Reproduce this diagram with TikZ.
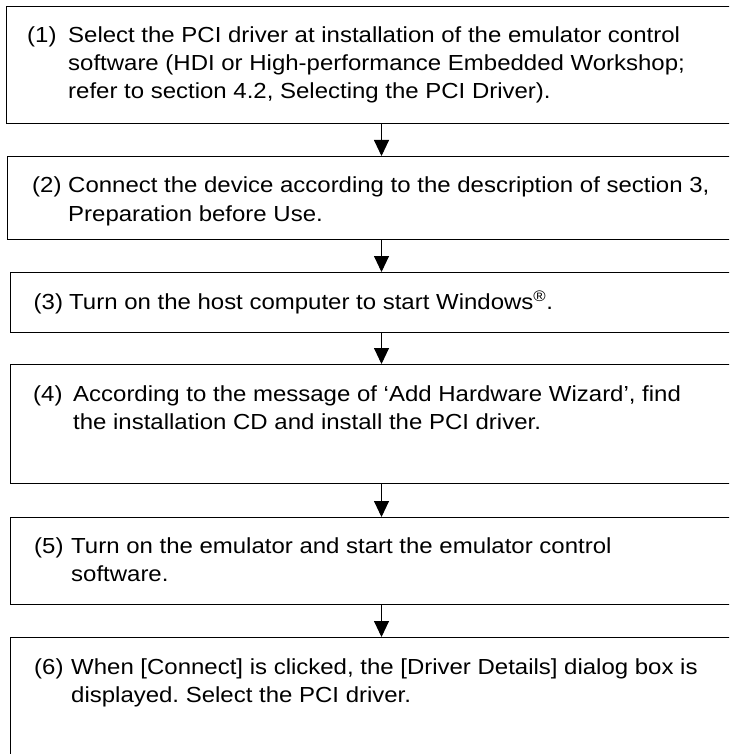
\documentclass[tikz,border=0pt]{standalone}
\usepackage{fontspec}
\setmainfont{Liberation Sans}[FakeStretch=1.1]
\usetikzlibrary{arrows.meta,calc}
\frenchspacing
\begin{document}
\begin{tikzpicture}[x=1pt,y=-1pt,
  stepbox/.style={draw, line width=1.3pt, rectangle, anchor=north west, inner sep=0pt, minimum width=745pt},
  txt/.style={anchor=base west, inner sep=0pt, font=\fontsize{21.8}{28}\selectfont},
  arr/.style={line width=0.9pt, -{Triangle[width=15pt,length=16pt]}}]
\useasboundingbox (0,0) rectangle (729,754);
\clip (0,0) rectangle (729,754);
% boxes
\node[stepbox, minimum height=117pt] (b1) at (6,6) {};
\node[stepbox, minimum height=83pt]  (b2) at (6.5,156) {};
\node[stepbox, minimum height=60pt]  (b3) at (9.5,272) {};
\node[stepbox, minimum height=119pt] (b4) at (10,364) {};
\node[stepbox, minimum height=87pt]  (b5) at (10,517) {};
\node[stepbox, minimum height=200pt] (b6) at (9.5,637) {};
% texts
\node[txt] (n1) at (27,43) {(1)};
\node[txt] (t1a) at (68,43) {Select the PCI driver at installation of the emulator control};
\node[txt] (t1b) at (68,71) {software (HDI or High-performance Embedded Workshop;};
\node[txt] (t1c) at (68,99) {refer to section 4.2, Selecting the PCI Driver).};
\node[txt] (n2) at (32,193) {(2)};
\node[txt] (t2a) at (68,193) {Connect the device according to the description of section 3,};
\node[txt] (t2b) at (68,221) {Preparation before Use.};
\node[txt] (n3) at (33.5,309) {(3)};
\node[txt] (t3a) at (69,309) {Turn on the host computer to start Windows\textsuperscript{\textregistered}.};
\node[txt] (n4) at (33,401) {(4)};
\node[txt] (t4a) at (73,401) {According to the message of ‘Add Hardware Wizard’, find};
\node[txt] (t4b) at (73,429) {the installation CD and install the PCI driver.};
\node[txt] (n5) at (34,553) {(5)};
\node[txt] (t5a) at (71,553) {Turn on the emulator and start the emulator control};
\node[txt] (t5b) at (71,581) {software.};
\node[txt] (n6) at (34,674) {(6)};
\node[txt] (t6a) at (71,674) {When [Connect] is clicked, the [Driver Details] dialog box is};
\node[txt] (t6b) at (71,702) {displayed. Select the PCI driver.};
% arrows
\coordinate (ax) at (381.5,0);
\draw[arr] (b1.south -| ax) -- (b2.north -| ax);
\draw[arr] (b2.south -| ax) -- (b3.north -| ax);
\draw[arr] (b3.south -| ax) -- (b4.north -| ax);
\draw[arr] (b4.south -| ax) -- (b5.north -| ax);
\draw[arr] (b5.south -| ax) -- (b6.north -| ax);
\end{tikzpicture}
\end{document}
